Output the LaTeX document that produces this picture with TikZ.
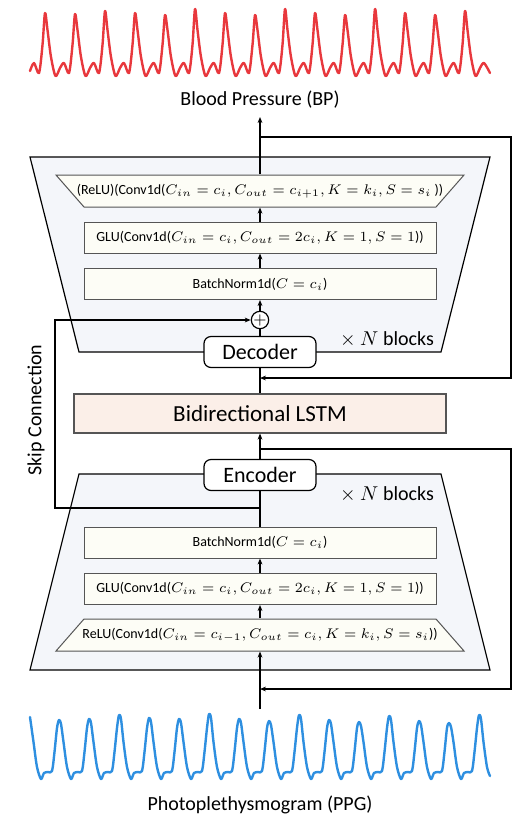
\documentclass[tikz,border=0pt]{standalone}
\usepackage{fontspec}
\setmainfont{Carlito}
\usetikzlibrary{arrows.meta}
\definecolor{bpred}{HTML}{E8383D}
\definecolor{ppgblue}{HTML}{2E8FE0}
\definecolor{blockbg}{HTML}{F4F6FA}
\definecolor{layerbg}{HTML}{FDFDF6}
\definecolor{lstmbg}{HTML}{FBEFE8}
\definecolor{layeredge}{HTML}{555555}
\begin{document}
\begin{tikzpicture}[x=0.5pt,y=-0.5pt,line width=0.6pt,>={Stealth[length=3pt,width=2.4pt]},
  layerface/.style={draw=layeredge,line width=0.5pt,fill=layerbg},
  layertext/.style={minimum width=176pt,minimum height=15.5pt,inner sep=0pt,font=\fontsize{7}{8.5}\selectfont},
  layer/.style={layerface,layertext},
  coder/.style={draw,fill=white,rounded corners=3.5pt,minimum width=56pt,minimum height=15.5pt,inner sep=0pt,font=\fontsize{11}{13}\selectfont},
  caption/.style={font=\fontsize{10}{12}\selectfont},
  wave/.style={line width=1.2pt,line join=round,line cap=round}]
\useasboundingbox (0,0) rectangle (520,816);
% signals
\def\bppts{(30,71) (34,63)}
\foreach \p/\h in {45/13,75/14,105/11,135/13,165/15,195/9,225/13,255/15,285/9,315/13,345/15,375/9,405/13,435/15,465/11}{
  \xdef\bppts{\bppts (\p-6,73) (\p-2.5,45) (\p,\h) (\p+2.5,30) (\p+6,57) (\p+10.5,76) (\p+15,68) (\p+19,63)}}
\edef\bpplot{\noexpand\draw[wave,bpred] plot[smooth] coordinates {\bppts (490,73)};}\bpplot
\def\ppgpts{(30,717) (33.5,742) (37,767) (41,779) (44,773) (48,772)}
\foreach \p/\h in {59/720,89/719,119/715,149/718,179/719,209/714,239/719,269/721,299/715,329/720,359/722,389/716,419/721,449/723}{
  \xdef\ppgpts{\ppgpts (\p-7,771) (\p-4.5,752) (\p-2,728) (\p,\h) (\p+2,\h+4) (\p+4.5,742) (\p+8,767) (\p+12,779) (\p+15,773) (\p+19,772)}}
\edef\ppgplot{\noexpand\draw[wave,ppgblue] plot[smooth] coordinates {\ppgpts (472,771) (474.5,752) (477,728) (479,715) (481,719) (483.5,742) (487,767) (490,776)};}\ppgplot
\node[caption] (bplbl) at (260,100) {Blood Pressure (BP)};
\node[caption] (ppglbl) at (260,805) {Photoplethysmogram (PPG)};
% decoder block
\filldraw[fill=blockbg] (30,157) -- (490,157) -- (441,352) -- (79,352) -- cycle;
\filldraw[layerface] (56,175) -- (464,175) -- (436,207) -- (84,207) -- cycle;
\node[layertext,minimum height=16pt] (drelu) at (260,191) {(ReLU)(Conv1d($C_{in} = c_i, C_{out} = c_{i+1}, K = k_i, S = s_i$ ))};
\node[layer] (dglu) at (260,237.5) {GLU(Conv1d($C_{in} = c_i, C_{out} = 2c_i, K = 1, S = 1$))};
\node[layer] (dbn) at (260,284) {BatchNorm1d($C = c_i$)};
\node[circle,draw,fill=white,inner sep=0pt,minimum size=7pt,font=\fontsize{8}{8}\selectfont] (dplus) at (260,320) {$+$};
\node[coder] (dec) at (260,352) {Decoder};
\node[caption] (dtimes) at (387,339) {$\times$ $N$ blocks};
% lstm
\node[draw=layeredge,fill=lstmbg,minimum width=186pt,minimum height=19.5pt,inner sep=0pt,font=\fontsize{11.5}{14}\selectfont] (lstm) at (260,413.5) {Bidirectional LSTM};
% encoder block
\filldraw[fill=blockbg] (79,474) -- (441,474) -- (490,670) -- (30,670) -- cycle;
\node[coder] (enc) at (260,475) {Encoder};
\node[caption] (etimes) at (387,494) {$\times$ $N$ blocks};
\node[layer] (ebn) at (260,542.5) {BatchNorm1d($C = c_i$)};
\node[layer] (eglu) at (260,589) {GLU(Conv1d($C_{in} = c_i, C_{out} = 2c_i, K = 1, S = 1$))};
\filldraw[layerface] (84,619) -- (436,619) -- (464,651) -- (56,651) -- cycle;
\node[layertext,minimum height=16pt] (erelu) at (260,635) {ReLU(Conv1d($C_{in} = c_{i-1}, C_{out} = c_i, K = k_i, S = s_i$))};
\node[caption,rotate=90] (skiplbl) at (36,410) {Skip Connection};
\coordinate (in) at (260,709);
\coordinate (out) at (260,117);
\coordinate (etap) at (260,449);
\coordinate (eret) at (260,689);
\coordinate (dtap) at (260,137);
\coordinate (dret) at (260,378);
\coordinate (skip) at (260,508);
% connections
\draw[->] (in) -- (erelu.south);
\draw[->] (erelu.north) -- (eglu.south);
\draw[->] (eglu.north) -- (ebn.south);
\draw (ebn.north) -- (enc.south);
\draw[->] (enc.north) -- (lstm.south);
\draw (lstm.north) -- (dec.south);
\draw (dec.north) -- (dplus.south);
\draw[->] (dplus.north) -- (dbn.south);
\draw[->] (dbn.north) -- (dglu.south);
\draw[->] (dglu.north) -- (drelu.south);
\draw[->] (drelu.north) -- (out);
\draw[->] (etap) -- ++(251,0) |- (eret);
\draw[->] (dtap) -- ++(251,0) |- (dret);
\draw[->] (skip) -- ++(-205,0) |- (dplus.west);
\end{tikzpicture}
\end{document}
